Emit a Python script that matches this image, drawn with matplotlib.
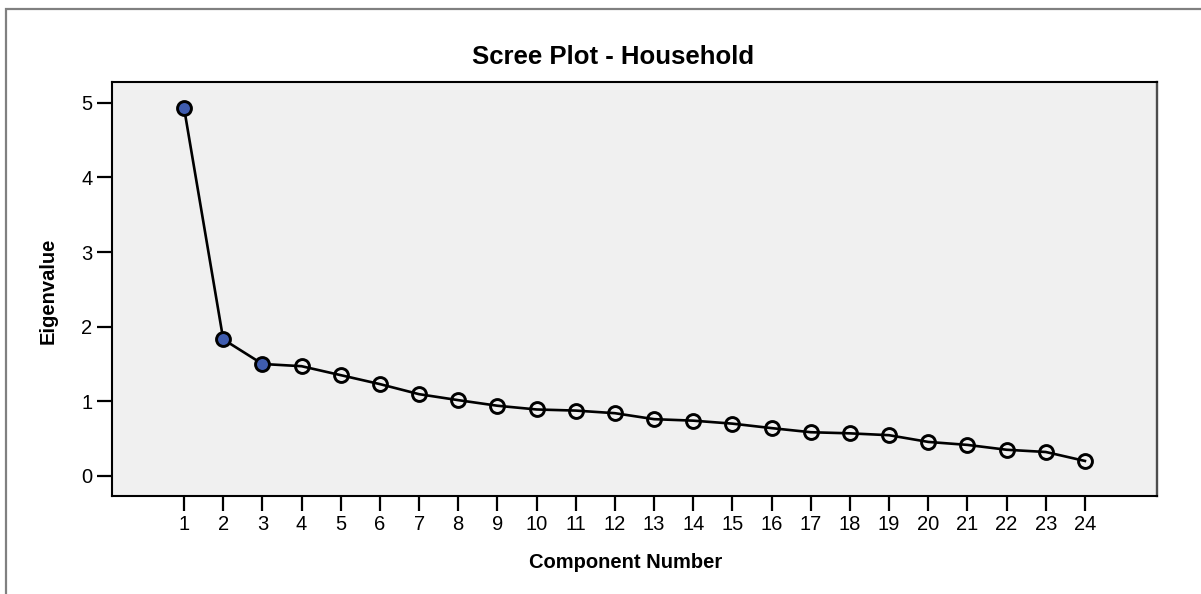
import matplotlib.pyplot as plt
from matplotlib.patches import Rectangle

plt.rcParams['font.family'] = ['Liberation Sans', 'DejaVu Sans']

# valeurs
composantes = list(range(1, 25))
valeurs_propres = [4.93, 1.83, 1.50, 1.47, 1.35, 1.23, 1.095, 1.015, 0.94, 0.89,
                   0.875, 0.84, 0.76, 0.74, 0.70, 0.64, 0.585, 0.57, 0.545, 0.455,
                   0.415, 0.35, 0.32, 0.20]
n_retenues = 3  # composantes colorees en bleu
titre = "Scree Plot - Household"
titreX = "Component Number"
titreY = "Eigenvalue"

W, H = 1201, 594
fig = plt.figure(figsize=(W / 100, H / 100), dpi=100)

# cadre exterieur gris (coupe a droite et en bas)
fig.patches.append(Rectangle((6 / W, -0.1), 1.2, (H - 9) / H + 0.1, transform=fig.transFigure,
                             fill=False, edgecolor='#808080', linewidth=1.6, zorder=0))

ax = fig.add_axes([112 / W, (H - 496) / H, (1157 - 112) / W, (496 - 82) / H])
ax.set_facecolor('#f0f0f0')

ax.plot(composantes, valeurs_propres, color='black', linewidth=1.9, zorder=2)
ax.plot(composantes[n_retenues:], valeurs_propres[n_retenues:], 'o', markersize=10,
        markerfacecolor='none', markeredgecolor='black', markeredgewidth=2.1, zorder=3)
ax.plot(composantes[:n_retenues], valeurs_propres[:n_retenues], 'o', markersize=10,
        markerfacecolor='#3f5caf', markeredgecolor='black', markeredgewidth=2.1, zorder=3)

ax.set_xlim(-0.84, 25.84)
ax.set_ylim(-0.27, 5.28)
ax.set_xticks(composantes)
ax.set_yticks([0, 1, 2, 3, 4, 5])
ax.tick_params(direction='out', length=11, width=1.6, labelsize=14.5, pad=3, colors='black')

for s in ['left', 'bottom', 'top']:
    ax.spines[s].set_linewidth(1.5)
    ax.spines[s].set_color('black')
ax.spines['right'].set_linewidth(1.7)
ax.spines['right'].set_color('#4d4d4d')

fig.text(613 / W, 1 - 57 / H, titre, ha='center', va='center', fontsize=18.5, fontweight='bold')
fig.text(626 / W, 1 - 562 / H, titreX, ha='center', va='center', fontsize=14.5, fontweight='bold')
fig.text(48 / W, 1 - 291 / H, titreY, ha='center', va='center', fontsize=14.5,
         fontweight='bold', rotation=90)

plt.savefig('out.png', dpi=100)
